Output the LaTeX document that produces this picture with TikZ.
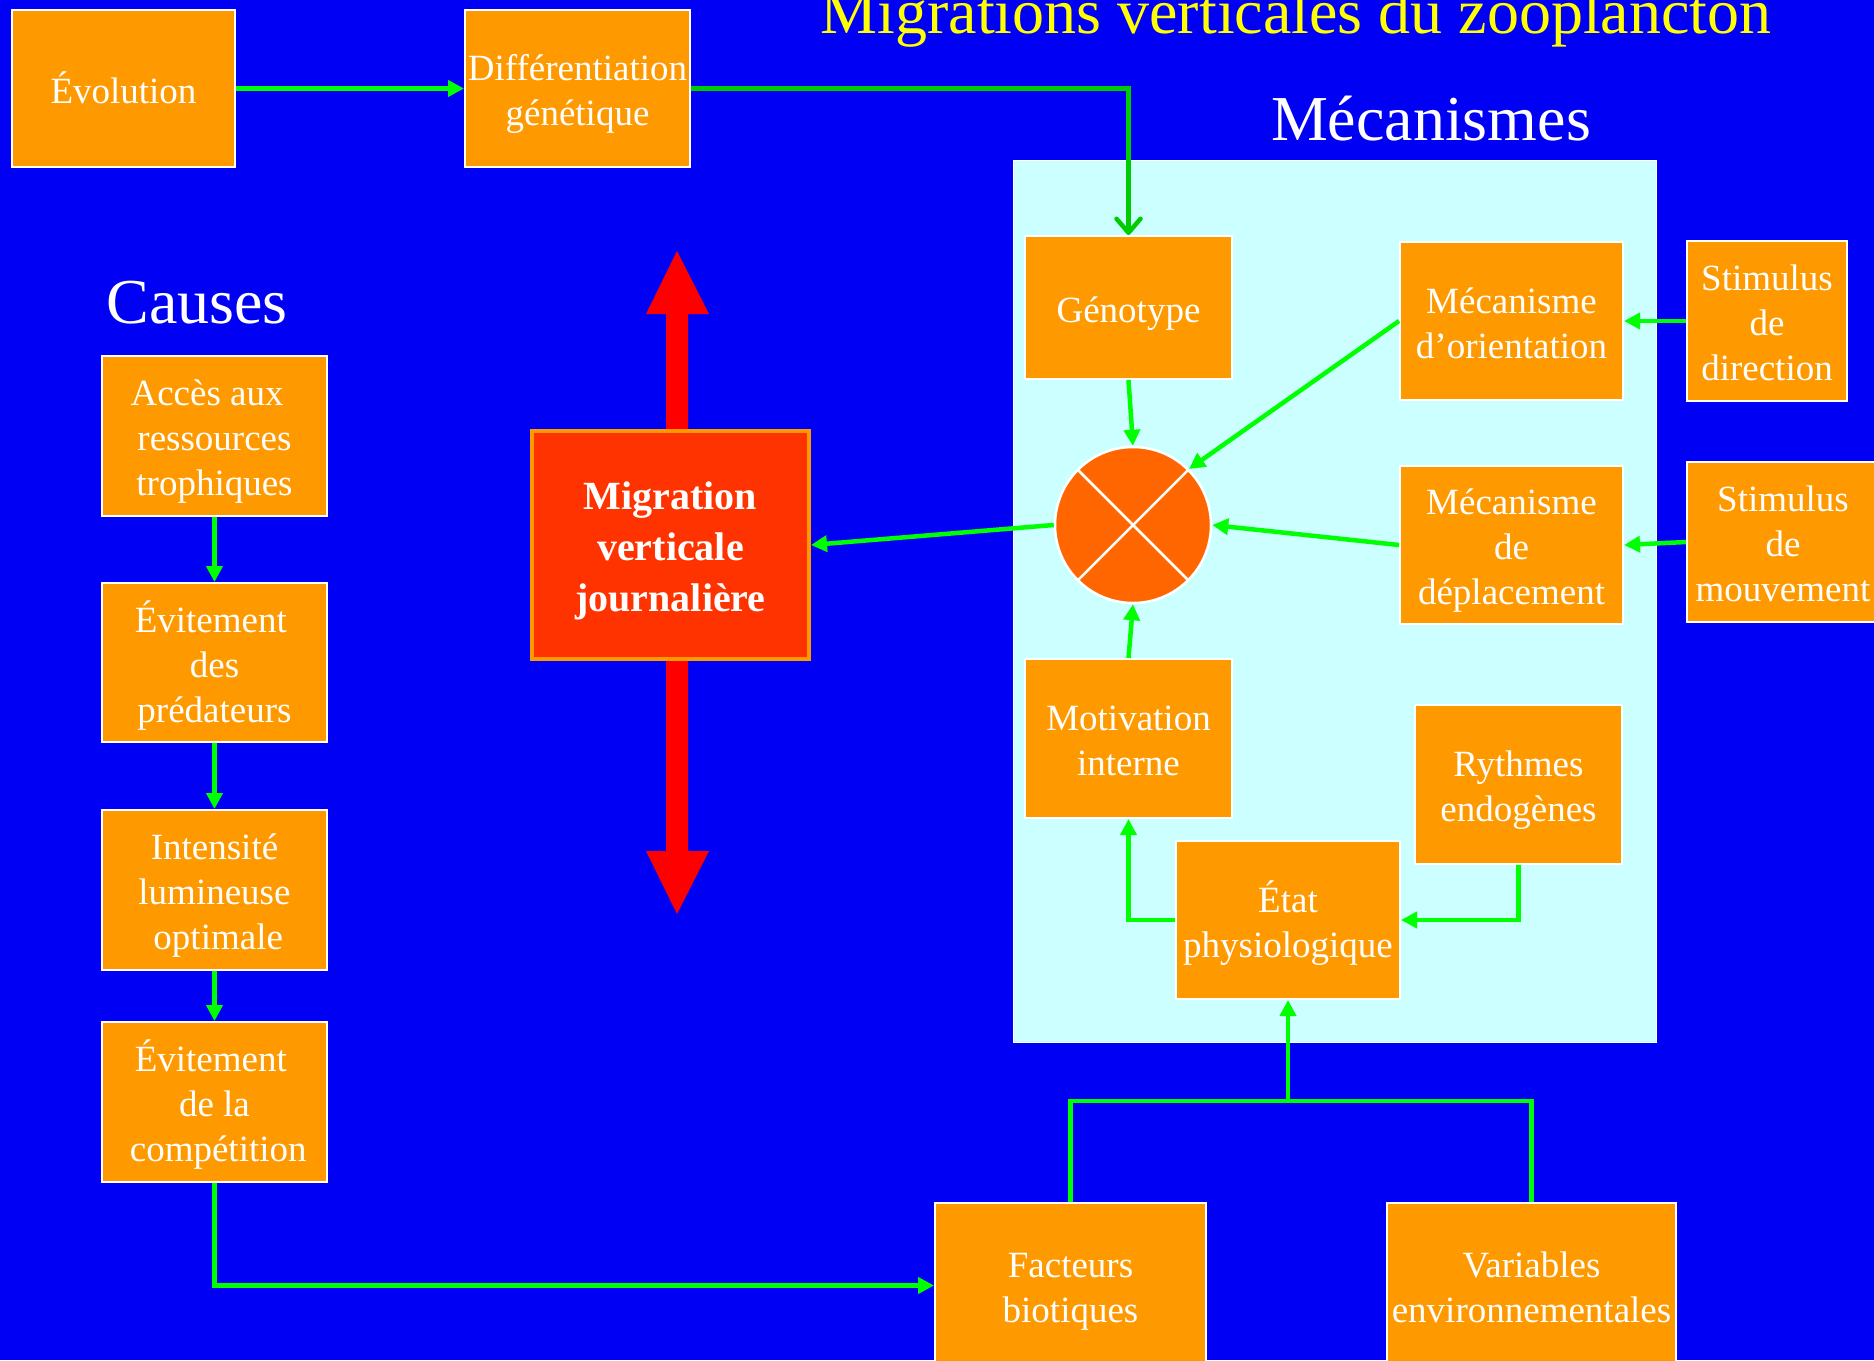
\documentclass[tikz,border=0pt]{standalone}
\usepackage{fontspec}
\setmainfont{Liberation Serif}
\usetikzlibrary{arrows.meta}
\definecolor{seablue}{RGB}{0, 0, 245}
\definecolor{boxorange}{RGB}{255, 153, 0}
\definecolor{panelcyan}{RGB}{204, 255, 255}
\definecolor{crossorange}{RGB}{255, 102, 0}
\definecolor{migfill}{RGB}{255, 51, 0}
\definecolor{migred}{RGB}{255, 0, 0}
\definecolor{flowgreen}{RGB}{0, 255, 0}
\definecolor{genegreen}{RGB}{0, 204, 0}
\definecolor{titleyellow}{RGB}{255, 255, 0}
\newcommand{\boxfont}{\fontsize{37}{45}\selectfont}
\newcommand{\headfont}{\fontsize{64}{70}\selectfont}
\tikzset{
    lines/.style={text height=45pt*#1-6pt, text depth=10pt},
    box/.style={draw=white, line width=2pt, fill=boxorange, text=white,
        align=center, inner sep=0pt, font=\boxfont, lines=1},
    head/.style={anchor=base, text=white, inner sep=0pt, font=\headfont},
    flow/.style={draw=flowgreen, line width=4.5pt,
        -{Triangle[length=16pt, width=16pt]}},
    link/.style={draw=flowgreen, line width=4.5pt},
    genelink/.style={draw=genegreen, line width=4.5pt,
        -{Straight Barb[length=14pt, width=24pt, round]}},
}

\begin{document}
\begin{tikzpicture}[x=1pt, y=-1pt]
    \useasboundingbox (0, 0) rectangle (1874, 1360);
    \clip (0, 0) rectangle (1874, 1360);
    \fill[seablue] (0, 0) rectangle (1874, 1360);
    % titles
    \node[head, text=titleyellow] (title) at (1296, 33)
        {Migrations verticales du zooplancton};
    \node[head] (mecatitle) at (1431, 140) {Mécanismes};
    \node[head] (causetitle) at (197, 323) {Causes};
    % mechanisms panel
    \draw[fill=panelcyan, draw=white, line width=1pt] (1013, 160) rectangle
        (1656, 1042);
    % vertical double arrow
    \fill[migred] (677, 251) -- (709, 314) -- (688, 314) -- (688, 851)
        -- (709, 851) -- (677, 914) -- (646, 851) -- (666, 851) -- (666, 314)
        -- (646, 314) -- cycle;
    % top row
    \node[box, minimum width=223pt, minimum height=157pt] (evol)
        at (123.5, 88.5) {Évolution};
    \node[box, lines=2, minimum width=225pt, minimum height=157pt] (diff)
        at (577.5, 88.5) {Différentiation\\génétique};
    % causes
    \node[box, lines=3, minimum width=225pt, minimum height=160pt] (acces)
        at (214.5, 436) {Accès aux\hspace*{0.4em}\\ressources\\trophiques};
    \node[box, lines=3, minimum width=225pt, minimum height=159pt] (evitpred)
        at (214.5, 662.5) {Évitement\hspace*{0.2em}\\des\\prédateurs};
    \node[box, lines=3, minimum width=225pt, minimum height=160pt] (intens)
        at (214.5, 890) {Intensité\\lumineuse\\\hspace*{0.2em}optimale};
    \node[box, lines=3, minimum width=225pt, minimum height=160pt] (evitcomp)
        at (214.5, 1102) {Évitement\hspace*{0.2em}\\de la\\\hspace*{0.2em}compétition};
    % migration
    \node[box, draw=boxorange, line width=4pt, fill=migfill,
        minimum width=277pt, minimum height=228pt,
        text height=143pt, text depth=10pt,
        font=\fontsize{40}{51}\selectfont\bfseries] (migr)
        at (670.5, 545) {Migration\\verticale\\journalière};
    % mechanisms
    \node[box, minimum width=207pt, minimum height=143pt] (geno)
        at (1128.5, 307.5) {Génotype};
    \node[box, lines=2, minimum width=223pt, minimum height=158pt] (orient)
        at (1511.5, 321) {Mécanisme\\d’orientation};
    \node[box, lines=3, minimum width=160pt, minimum height=160pt] (stimdir)
        at (1767, 321) {Stimulus\\de\\direction};
    \node[box, lines=3, minimum width=223pt, minimum height=158pt] (depl)
        at (1511.5, 545) {Mécanisme\\de\\déplacement};
    \node[box, lines=3, minimum width=192pt, minimum height=160pt] (stimmouv)
        at (1783, 542) {Stimulus\\de\\mouvement};
    \node[box, lines=2, minimum width=207pt, minimum height=159pt] (motiv)
        at (1128.5, 738.5) {Motivation\\interne};
    \node[box, lines=2, minimum width=207pt, minimum height=159pt] (rythm)
        at (1518.5, 784.5) {Rythmes\\endogènes};
    \node[box, lines=2, minimum width=224pt, minimum height=158pt] (etat)
        at (1288, 920) {État\\physiologique};
    \node[box, lines=2, minimum width=271pt, minimum height=165pt] (fact)
        at (1070.5, 1285.5) {Facteurs\\biotiques};
    \node[box, lines=2, minimum width=289pt, minimum height=165pt] (var)
        at (1531.5, 1285.5) {Variables\\environnementales};
    \node[circle, draw=white, line width=2.5pt, fill=crossorange,
        minimum size=156pt, inner sep=0pt] (cross) at (1133, 525) {};
    \draw[white, line width=2.5pt] (cross.45) -- (cross.225)
        (cross.135) -- (cross.315);
    % connectors
    \draw[flow] (evol.east) -- (diff.west);
    \draw[genelink] (diff.east) -| (geno.north);
    \draw[flow] (acces.south) -- (evitpred.north);
    \draw[flow] (evitpred.south) -- (intens.north);
    \draw[flow] (intens.south) -- (evitcomp.north);
    \draw[flow] (evitcomp.south) |- (fact.west);
    \coordinate (junc) at (1288, 1101);
    \draw[link] (fact.north) |- (junc) -| (var.north);
    \draw[flow] (junc) -- (etat.south);
    \draw[flow] (etat.west) -| (motiv.south);
    \draw[flow] (rythm.south) |- (etat.east);
    \draw[flow] (geno.south) -- (cross.north);
    \draw[flow] (motiv.north) -- (cross.south);
    \draw[flow] (orient.west) -- (cross.45);
    \draw[flow] (depl.west) -- (cross.east);
    \draw[flow] (stimdir.west) -- (orient.east);
    \draw[flow] (stimmouv.west) -- (depl.east);
    \draw[flow] (cross.west) -- (migr.east);
\end{tikzpicture}
\end{document}
